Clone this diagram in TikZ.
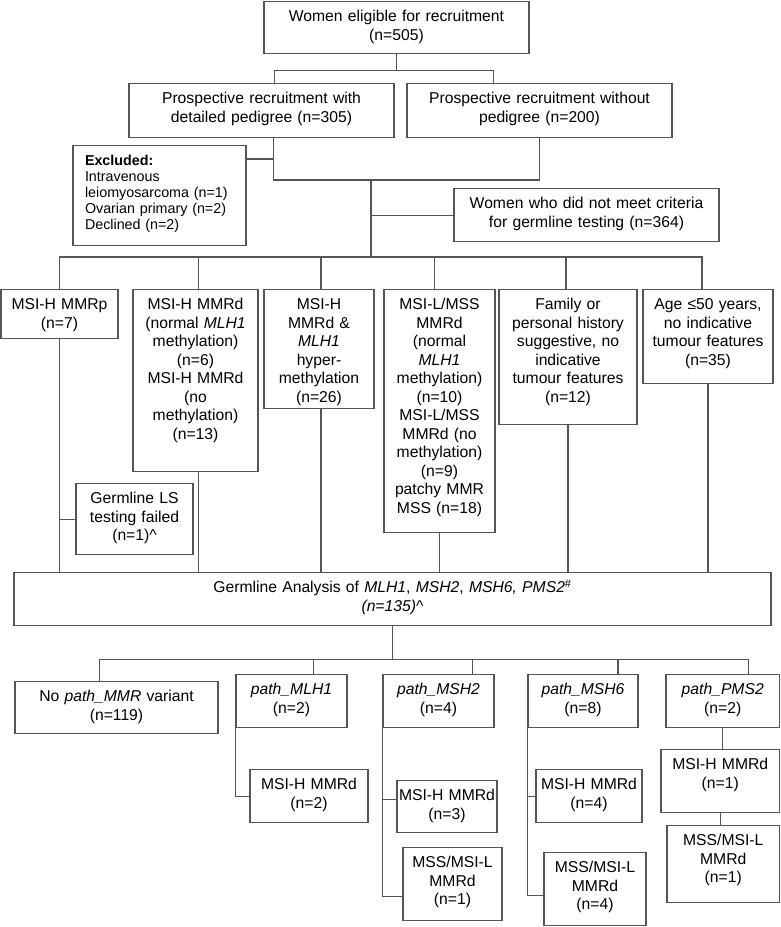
\documentclass[tikz,border=0pt]{standalone}
\usepackage{fontspec}
\setmainfont{Liberation Sans}
\definecolor{linea}{RGB}{85,85,85}

\begin{document}
\begin{tikzpicture}[x=1pt, y=-1pt,
      font=\fontsize{15.7}{18.5}\selectfont,
      caja/.style={draw=linea, line width=1.2pt, anchor=north, align=center,
                   inner xsep=3pt, inner ysep=0pt, text height=20pt},
      conector/.style={draw=linea, line width=1.2pt}]
    \useasboundingbox (0,0) rectangle (781,927);

    \node[caja, text width=259pt, text depth=32pt] (elig) at (396.5,1) {Women eligible for recruitment\\(n=505)};
    \node[caja, text width=259pt, text depth=34pt] (conped) at (261.5,83) {Prospective recruitment with\\detailed pedigree (n=305)};
    \node[caja, text width=259pt, text depth=34pt] (sinped) at (539.5,83) {Prospective recruitment without\\pedigree (n=200)};
    \node[caja, align=left, inner xsep=12pt, text width=149pt, text depth=80pt,
          font=\fontsize{14.3}{16}\selectfont] (excl) at (159.5,145)
          {\textbf{Excluded:}\\Intravenous\\leiomyosarcoma (n=1)\\Ovarian primary (n=2)\\Declined (n=2)};
    \node[caja, text width=259pt, text depth=33pt] (nocrit) at (586.5,188) {Women who did not meet criteria\\for germline testing (n=364)};

    \node[caja, text width=111pt, text depth=29pt] (mmrp) at (59.5,289) {MSI-H MMRp\\(n=7)};
    \node[caja, text width=119pt, text depth=162pt] (mmrd) at (195.5,289) {MSI-H MMRd\\(normal \textit{MLH1}\\methylation)\\(n=6)\\MSI-H MMRd\\(no\\methylation)\\(n=13)};
    \node[caja, text width=104pt, text depth=99pt] (hyper) at (319,289) {MSI-H\\MMRd \&\\\textit{MLH1}\\hyper-\\methylation\\(n=26)};
    \node[caja, text width=105pt, text depth=223pt] (mss) at (439.5,289) {MSI-L/MSS\\MMRd\\(normal\\\textit{MLH1}\\methylation)\\(n=10)\\MSI-L/MSS\\MMRd (no\\methylation)\\(n=9)\\patchy MMR\\MSS (n=18)};
    \node[caja, text width=132pt, text depth=115pt] (fam) at (568,289) {Family or\\personal history\\suggestive, no\\indicative\\tumour features\\(n=12)};
    \node[caja, text width=124pt, text depth=74pt] (age) at (708,289) {Age ≤50 years,\\no indicative\\tumour features\\(n=35)};
    \node[caja, text width=111pt, text depth=51pt] (lsfail) at (134.5,483) {Germline LS\\testing failed\\(n=1)\textasciicircum};

    \node[caja, text width=751pt, text depth=33pt] (germ) at (392.5,572) {Germline Analysis of \textit{MLH1}, \textit{MSH2}, \textit{MSH6, PMS2}\textsuperscript{\#}\\\textit{(n=135)}\textasciicircum};

    \node[caja, text width=197pt, text depth=32pt] (nopath) at (116.5,681) {No \textit{path\_MMR} variant\\(n=119)};
    \node[caja, text width=105pt, text depth=33pt] (mlh1) at (291.5,674) {\textit{path\_MLH1}\\(n=2)};
    \node[caja, text width=105pt, text depth=33pt] (msh2) at (438.5,674) {\textit{path\_MSH2}\\(n=4)};
    \node[caja, text width=104pt, text depth=33pt] (msh6) at (583,674) {\textit{path\_MSH6}\\(n=8)};
    \node[caja, text width=107.5pt, text depth=33pt] (pms2) at (722.75,674) {\textit{path\_PMS2}\\(n=2)};
    \node[caja, text width=112pt, text depth=33pt] (mlh1a) at (309,769) {MSI-H MMRd\\(n=2)};
    \node[caja, inner xsep=1pt, text width=98pt, text depth=32pt] (msh2a) at (447,780) {MSI-H MMRd\\(n=3)};
    \node[caja, inner xsep=1pt, text width=97pt, text depth=53pt] (msh2b) at (452.5,847) {MSS/MSI-L\\MMRd\\(n=1)};
    \node[caja, text width=100pt, text depth=33pt] (msh6a) at (589,769) {MSI-H MMRd\\(n=4)};
    \node[caja, text width=96pt, text depth=53pt] (msh6b) at (595,852) {MSS/MSI-L\\MMRd\\(n=4)};
    \node[caja, text width=112.5pt, text depth=43pt] (pms2a) at (720.25,749) {MSI-H MMRd\\(n=1)};
    \node[caja, text width=106.5pt, text depth=57pt] (pms2b) at (723.25,825) {MSS/MSI-L\\MMRd\\(n=1)};

    \draw[conector] (elig.south) -- ++(0,16) coordinate (b0);
    \draw[conector] ([xshift=13pt]conped.north) |- (b0) -| ([xshift=-46pt]sinped.north);
    \coordinate (b1) at (371,180);
    \coordinate (b2) at (371,257);
    \draw[conector] ([xshift=12pt]conped.south) |- (b1) -| (sinped.south);
    \draw[conector] ([yshift=-14pt]excl.north east) -| ([xshift=12pt]conped.south);
    \draw[conector] (b1) -- (b2);
    \draw[conector] (nocrit.west) -- (nocrit.west -| b1);

    \draw[conector] (mmrp.north) |- (b2) -| ([xshift=-6pt]age.north);
    \foreach \n/\dx in {mmrd/3pt, hyper/2pt, mss/-5pt, fam/-2pt}
      \draw[conector] ([xshift=\dx]\n.north) -- ([xshift=\dx]\n.north |- b2);
    \foreach \n/\dx in {mmrp/0pt, mmrd/3pt, hyper/2pt, mss/0pt, fam/0pt, age/0pt}
      \draw[conector] ([xshift=\dx]\n.south) -- ([xshift=\dx]\n.south |- germ.north);
    \draw[conector] (lsfail.west) -- (lsfail.west -| mmrp.south);

    \draw[conector] (germ.south) -- ++(0,33) coordinate (b3);
    \draw[conector] ([xshift=-17pt]nopath.north) |- (b3) -| ([xshift=26pt]pms2.north);
    \foreach \n/\dx in {mlh1/22pt, msh2/34pt, msh6/35pt}
      \draw[conector] ([xshift=\dx]\n.north) -- ([xshift=\dx]\n.north |- b3);

    \draw[conector] (mlh1.south west) |- (mlh1a.west);
    \draw[conector] (msh2.south west) |- ([yshift=7pt]msh2a.west);
    \draw[conector] (msh2.south west) |- ([yshift=-12pt]msh2b.west);
    \draw[conector] (msh6.south west) |- (msh6a.west);
    \draw[conector] (msh6.south west) |- ([yshift=-6pt]msh6b.west);
    \draw[conector] (pms2.south) -- (pms2.south |- pms2a.north);
    \draw[conector] (pms2a.south) -- (pms2a.south |- pms2b.north);
  \end{tikzpicture}
\end{document}
